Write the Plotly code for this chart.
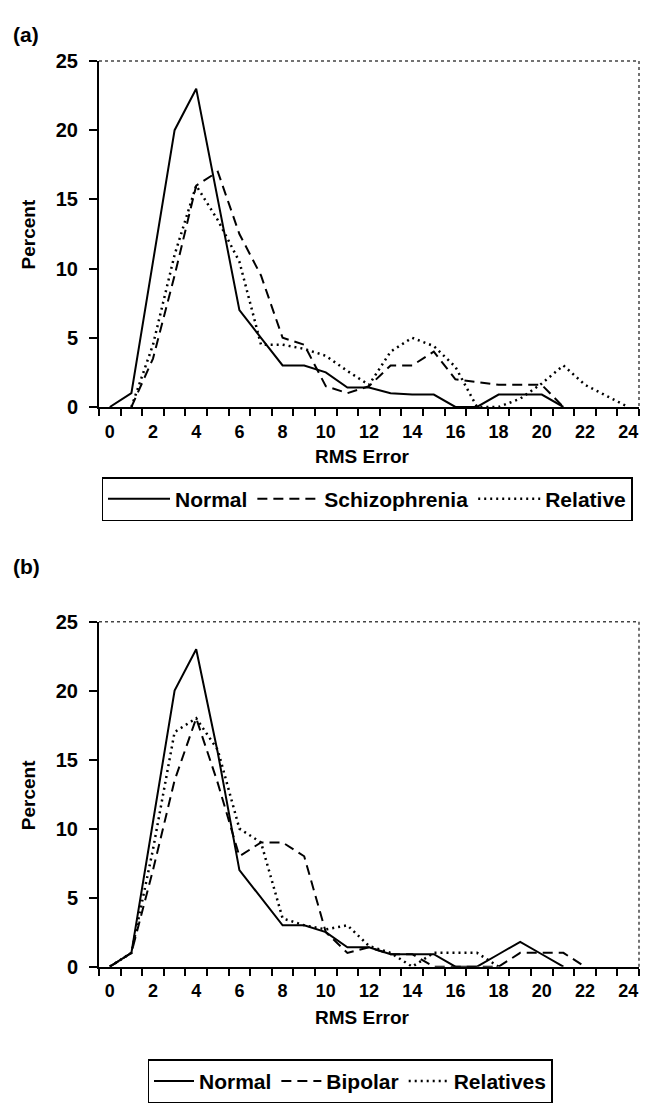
import plotly.graph_objects as go

# ---------------- data ----------------
rms_error = list(range(25))
x_tick_labels = [str(v) for v in range(0, 25, 2)]

# panel (a)
a_normal = [0, 1, 10.5, 20, 23, 15, 7, 5, 3, 3, 2.5, 1.4, 1.4, 1, 0.9, 0.9, 0, 0, 0.9, 0.9, 0.9, 0]
a_schizophrenia = [None, 0, 3.5, 9.5, 16, 17, 12.5, 9.5, 5, 4.5, 1.5, 1, 1.5, 3, 3, 4, 2, 1.8, 1.6, 1.6, 1.6, 0]
a_relative = [None, 0, 4.5, 11, 16, 13.5, 10.5, 4.5, 4.5, 4.2, 3.7, 2.6, 1.6, 4, 5, 4.4, 2.9, 0, 0, 0.6, 1.7, 3, 1.6, 0.8, 0]

# panel (b)
b_normal = [0, 1, 10.5, 20, 23, 15.5, 7, 5, 3, 3, 2.5, 1.4, 1.4, 0.9, 0.9, 0.9, 0, 0, 0.9, 1.8, 0.9, 0]
b_bipolar = [0, 1, 7, 13.5, 18, 13.3, 8, 9, 9, 8, 2.5, 1, 1.4, 0.9, 0.9, 0, 0, 0, 0, 1, 1, 1, 0]
b_relatives = [0, 1, 8.5, 17, 18, 15.7, 10, 9, 3.5, 3, 2.7, 3, 1.5, 1, 0, 1, 1, 1, 0]

# ---------------- styling ----------------
FONT = "Arial, Liberation Sans, Helvetica, sans-serif"
W, H = 647, 1110
X0, X1 = 99, 639
A_TOP, A_BOT = 51, 404
B_TOP, B_BOT = 623, 975

def fx(px):
    return px / W

def fy(py):
    return 1 - py / H

solid = dict(color="black", width=2)
dashed = dict(color="black", width=2, dash="10px,6px")
dotted = dict(color="black", width=2.5, dash="2px,4px")

fig = go.Figure()

def add(x, y, name, line, xa, ya, legend):
    fig.add_trace(go.Scatter(x=x[:len(y)], y=y, name=name, mode="lines", line=line,
                             xaxis=xa, yaxis=ya, legend=legend, connectgaps=False))

add(rms_error, a_normal, "Normal", solid, "x", "y", "legend")
add(rms_error, a_schizophrenia, "Schizophrenia", dashed, "x", "y", "legend")
add(rms_error, a_relative, "Relative", dotted, "x", "y", "legend")
add(rms_error, b_normal, "Normal", solid, "x2", "y2", "legend2")
add(rms_error, b_bipolar, "Bipolar", dashed, "x2", "y2", "legend2")
add(rms_error, b_relatives, "Relatives", dotted, "x2", "y2", "legend2")

xaxis_common = dict(
    range=[-0.5, 24.5], showline=True, linecolor="black", linewidth=2,
    showgrid=False, zeroline=False,
    tickvals=list(range(0, 25, 2)), ticktext=x_tick_labels,
    ticks="", ticklabelstandoff=7,
    tickfont=dict(family=FONT, size=18, color="black", weight="bold"),
    minor=dict(tickvals=[v - 0.5 for v in range(26)], ticks="outside",
               ticklen=7, tickwidth=2, tickcolor="black", showgrid=False),
    fixedrange=True,
)
yaxis_common = dict(
    range=[0, 25], showline=True, linecolor="black", linewidth=2,
    showgrid=False, zeroline=False,
    tickvals=[0, 5, 10, 15, 20, 25], ticks="outside", ticklen=8, tickwidth=2,
    tickcolor="black", ticklabelstandoff=7,
    tickfont=dict(family=FONT, size=20, color="black", weight="bold"),
    fixedrange=True,
)

legend_font = dict(family=FONT, size=21, color="black", weight="bold")
fig.update_layout(
    width=W, height=H,
    margin=dict(l=0, r=0, t=0, b=0),
    paper_bgcolor="white", plot_bgcolor="white",
    xaxis=dict(domain=[fx(X0), fx(X1)], anchor="y", **xaxis_common),
    yaxis=dict(domain=[fy(A_BOT), fy(A_TOP)], anchor="x", **yaxis_common),
    xaxis2=dict(domain=[fx(X0), fx(X1)], anchor="y2", **xaxis_common),
    yaxis2=dict(domain=[fy(B_BOT), fy(B_TOP)], anchor="x2", **yaxis_common),
    legend=dict(orientation="h", x=fx(367), y=fy(498), xanchor="center", yanchor="middle",
                bordercolor="black", borderwidth=1.5, bgcolor="white", font=legend_font,
                itemwidth=62, itemclick=False, itemdoubleclick=False),
    legend2=dict(orientation="h", x=fx(350), y=fy(1092), xanchor="center", yanchor="middle",
                 bordercolor="black", borderwidth=1.5, bgcolor="white", font=legend_font,
                 itemwidth=40, itemclick=False, itemdoubleclick=False),
    showlegend=True,
)

# dotted plot-area border (top and right)
for ytop, ybot in ((A_TOP, A_BOT), (B_TOP, B_BOT)):
    fig.add_shape(type="line", xref="paper", yref="paper",
                  x0=fx(X0), y0=fy(ytop), x1=fx(X1), y1=fy(ytop),
                  line=dict(color="#444", width=1.5, dash="dot"))
    fig.add_shape(type="line", xref="paper", yref="paper",
                  x0=fx(X1), y0=fy(ytop), x1=fx(X1), y1=fy(ybot),
                  line=dict(color="#444", width=1.5, dash="dot"))

title_font = dict(family=FONT, size=19, color="black", weight="bold")
label_font = dict(family=FONT, size=21, color="black", weight="bold")
annotations = [
    dict(text="(a)", x=fx(11), y=fy(24), xanchor="left", yanchor="middle", font=label_font),
    dict(text="(b)", x=fx(11), y=fy(567), xanchor="left", yanchor="middle", font=label_font),
    dict(text="RMS Error", x=fx(362), y=fy(455), xanchor="center", yanchor="middle", font=title_font),
    dict(text="RMS Error", x=fx(362), y=fy(1027), xanchor="center", yanchor="middle", font=title_font),
    dict(text="Percent", x=fx(28), y=fy(228), xanchor="center", yanchor="middle", textangle=-90, font=title_font),
    dict(text="Percent", x=fx(28), y=fy(800), xanchor="center", yanchor="middle", textangle=-90, font=title_font),
]
for a in annotations:
    fig.add_annotation(xref="paper", yref="paper", showarrow=False, **a)

fig.write_html("out.html", config={"displayModeBar": False},
               post_script="document.body.style.margin='0';document.body.style.overflow='hidden';")
